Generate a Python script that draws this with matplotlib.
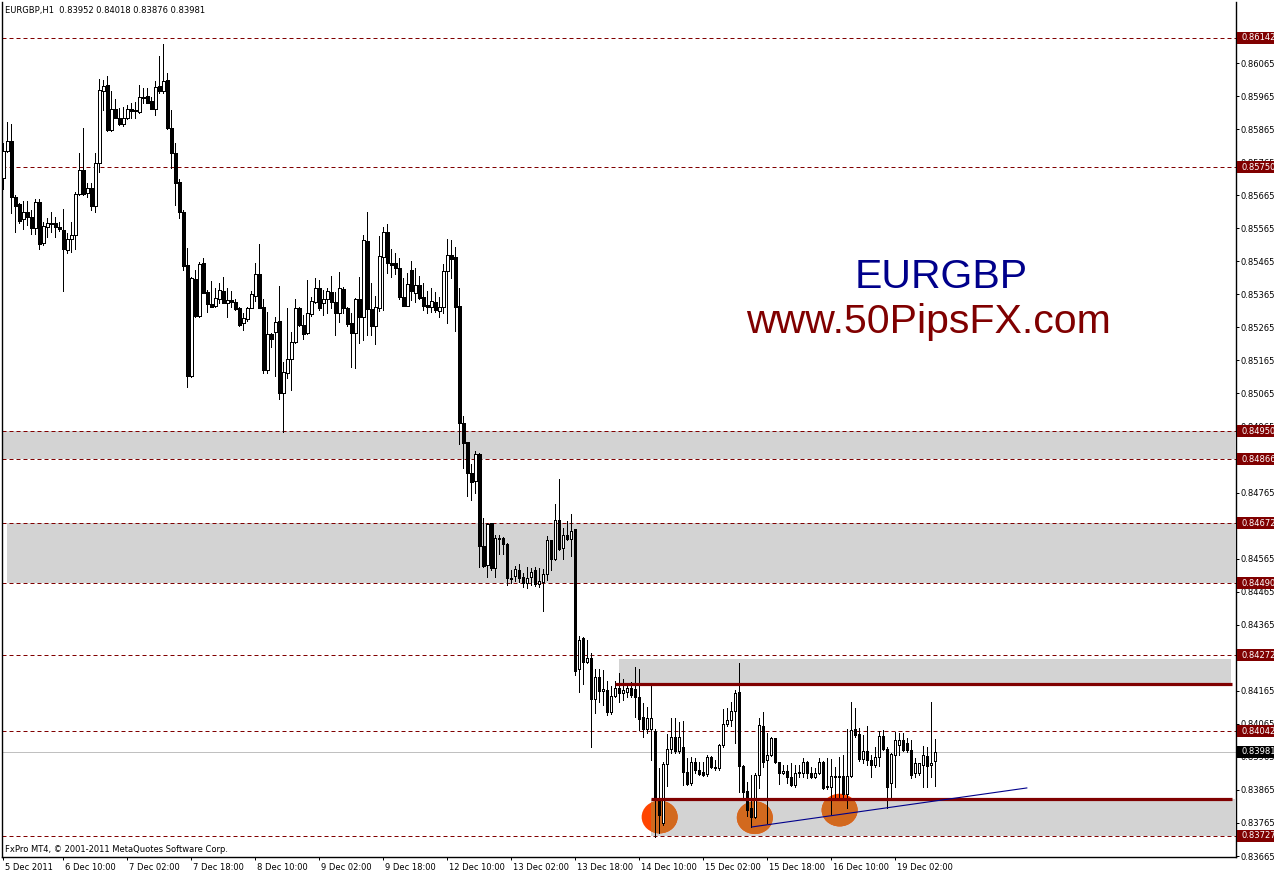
"""EURGBP H1 chart, MT4 style, with support / resistance zones."""
import matplotlib
matplotlib.use("Agg")
import matplotlib.pyplot as plt
import matplotlib.transforms as mtransforms
from matplotlib.patches import Rectangle, Ellipse
import numpy as np

W, H = 1274, 875

# hourly candles, prices in points (1e-5), first bar = 5 Dec 2011 19:00
OPEN = [
    85716, 85799, 85829, 85659, 85638, 85592, 85615, 85598, 85565, 85644,
    85520, 85568, 85580, 85580, 85568, 85560, 85499, 85532, 85544, 85669,
    85740, 85673, 85686, 85633, 85762, 85981, 85999, 85862, 85926, 85900,
    85881, 85898, 85927, 85920, 85918, 85963, 85965, 85950, 85926, 85996,
    85981, 86014, 85868, 85794, 85704, 85615, 85454, 85119, 85412, 85300,
    85459, 85371, 85335, 85330, 85350, 85375, 85340, 85348, 85343, 85323,
    85277, 85290, 85325, 85361, 85427, 85326, 85136, 85244, 85250, 85284,
    85065, 85128, 85168, 85222, 85323, 85272, 85247, 85305, 85343, 85383,
    85340, 85350, 85371, 85341, 85309, 85380, 85323, 85277, 85249, 85350,
    85297, 85527, 85320, 85269, 85325, 85479, 85553, 85461, 85459, 85444,
    85358, 85331, 85440, 85368, 85393, 85358, 85333, 85326, 85342, 85315,
    85328, 85436, 85484, 85479, 85330, 84975, 84918, 84824, 84800, 84882,
    84603, 84546, 84673, 84537, 84628, 84628, 84609, 84506, 84512, 84531,
    84509, 84491, 84509, 84531, 84488, 84494, 84518, 84621, 84564, 84682,
    84597, 84637, 84625, 84655, 84231, 84325, 84252, 84264, 84140, 84207,
    84164, 84167, 84101, 84149, 84173, 84158, 84161, 84173, 84170, 84146,
    84086, 84049, 84049, 84043, 83834, 83765, 83943, 83989, 84025, 83983,
    83995, 83919, 83886, 83949, 83925, 83918, 83913, 83965, 83934, 83931,
    84001, 84064, 84077, 84104, 84161, 83937, 83862, 83810, 83783, 83910,
    84058, 83955, 83971, 84022, 83949, 83916, 83922, 83904, 83880, 83916,
    83916, 83949, 83916, 83904, 83916, 83949, 83877, 83874, 83907, 83907,
    83907, 83853, 83907, 84049, 84034, 83958, 83983, 83955, 83940, 83965,
    84028, 83989, 83886, 83971, 84001, 84016, 84007, 83986, 83916, 83916,
    83940, 83968, 83940, 83952,
]
HIGH = [
    85822, 85887, 85880, 85666, 85641, 85649, 85649, 85620, 85653, 85653,
    85585, 85595, 85615, 85600, 85585, 85622, 85550, 85585, 85676, 85792,
    85868, 85701, 85701, 85794, 86016, 86014, 86026, 85980, 85955, 85928,
    85931, 85938, 85943, 85948, 85999, 85989, 85989, 85963, 86011, 86087,
    86123, 86034, 85922, 85822, 85713, 85620, 85504, 85417, 85439, 85464,
    85474, 85378, 85405, 85385, 85398, 85419, 85383, 85376, 85350, 85326,
    85308, 85328, 85376, 85459, 85517, 85352, 85311, 85249, 85296, 85390,
    85159, 85323, 85252, 85350, 85328, 85302, 85410, 85358, 85414, 85408,
    85378, 85383, 85420, 85373, 85434, 85386, 85328, 85308, 85353, 85417,
    85545, 85613, 85398, 85360, 85542, 85568, 85578, 85501, 85489, 85474,
    85414, 85429, 85467, 85444, 85420, 85398, 85376, 85383, 85371, 85358,
    85457, 85533, 85530, 85509, 85383, 84997, 84918, 84852, 84891, 84884,
    84688, 84673, 84673, 84637, 84637, 84631, 84612, 84531, 84543, 84549,
    84522, 84540, 84537, 84540, 84537, 84534, 84634, 84621, 84730, 84806,
    84658, 84679, 84700, 84655, 84331, 84328, 84319, 84279, 84231, 84231,
    84228, 84195, 84180, 84195, 84219, 84201, 84183, 84192, 84237, 84231,
    84128, 84116, 84186, 84049, 83931, 83949, 84034, 84083, 84083, 84070,
    84074, 83962, 83965, 83962, 83949, 83949, 83971, 83968, 83956, 84004,
    84110, 84113, 84131, 84167, 84249, 83940, 83889, 83910, 83916, 84083,
    84101, 84037, 84025, 84022, 83949, 83940, 83940, 83946, 83940, 83940,
    83962, 83953, 83934, 83931, 83962, 83952, 83962, 83959, 83934, 83965,
    83971, 84049, 84131, 84113, 84052, 84031, 84058, 83971, 83995, 84043,
    84046, 83995, 83977, 84040, 84037, 84037, 84022, 84016, 83962, 83946,
    83998, 83995, 84131, 84018,
]
LOW = [
    85683, 85797, 85612, 85555, 85582, 85562, 85575, 85548, 85548, 85502,
    85514, 85540, 85555, 85540, 85558, 85376, 85491, 85494, 85502, 85666,
    85666, 85661, 85620, 85615, 85736, 85923, 85860, 85859, 85898, 85878,
    85875, 85895, 85898, 85898, 85915, 85945, 85943, 85925, 85908, 85974,
    85974, 85866, 85747, 85636, 85595, 85439, 85084, 85116, 85296, 85296,
    85368, 85313, 85326, 85326, 85338, 85338, 85297, 85328, 85318, 85269,
    85257, 85285, 85323, 85346, 85323, 85128, 85126, 85207, 85119, 85048,
    84947, 85113, 85075, 85217, 85269, 85230, 85245, 85300, 85340, 85318,
    85302, 85308, 85323, 85242, 85282, 85308, 85269, 85146, 85143, 85217,
    85227, 85242, 85242, 85215, 85315, 85318, 85430, 85419, 85427, 85350,
    85330, 85330, 85348, 85343, 85350, 85318, 85309, 85313, 85313, 85297,
    85308, 85277, 85414, 85255, 84912, 84839, 84755, 84742, 84764, 84540,
    84540, 84509, 84530, 84509, 84579, 84579, 84485, 84491, 84497, 84494,
    84479, 84476, 84485, 84482, 84479, 84406, 84500, 84531, 84561, 84591,
    84564, 84621, 84573, 84213, 84161, 84186, 84249, 83995, 84098, 84131,
    84122, 84092, 84095, 84146, 84131, 84137, 84146, 84146, 84086, 84046,
    84025, 84037, 83956, 83722, 83734, 83758, 83877, 83977, 83977, 83977,
    83880, 83880, 83880, 83916, 83910, 83907, 83907, 83931, 83925, 83925,
    83995, 84058, 84058, 84007, 83859, 83834, 83786, 83753, 83780, 83871,
    83934, 83765, 83968, 83946, 83883, 83913, 83886, 83877, 83874, 83904,
    83904, 83901, 83901, 83902, 83913, 83868, 83868, 83792, 83843, 83837,
    83840, 83810, 83904, 84025, 83952, 83946, 83940, 83904, 83934, 83937,
    83986, 83810, 83843, 83874, 83971, 83983, 83980, 83901, 83904, 83910,
    83874, 83874, 83904, 83876,
]
CLOSE = [
    85800, 85829, 85659, 85633, 85588, 85615, 85598, 85565, 85644, 85517,
    85572, 85580, 85577, 85568, 85562, 85502, 85532, 85544, 85669, 85740,
    85669, 85686, 85633, 85762, 85984, 85996, 85862, 85926, 85900, 85881,
    85898, 85927, 85920, 85923, 85962, 85959, 85945, 85926, 85992, 85981,
    86011, 85868, 85794, 85703, 85615, 85452, 85119, 85414, 85300, 85456,
    85370, 85337, 85328, 85353, 85378, 85340, 85348, 85343, 85320, 85272,
    85292, 85323, 85365, 85427, 85325, 85136, 85244, 85230, 85280, 85067,
    85129, 85168, 85222, 85323, 85272, 85244, 85308, 85345, 85383, 85323,
    85350, 85375, 85343, 85309, 85383, 85323, 85275, 85249, 85351, 85297,
    85530, 85320, 85269, 85326, 85481, 85553, 85459, 85454, 85444, 85358,
    85331, 85395, 85376, 85393, 85355, 85330, 85326, 85345, 85318, 85328,
    85436, 85484, 85472, 85328, 84975, 84916, 84824, 84797, 84882, 84603,
    84543, 84670, 84537, 84628, 84625, 84609, 84506, 84503, 84534, 84506,
    84491, 84506, 84525, 84488, 84497, 84518, 84621, 84564, 84682, 84594,
    84637, 84625, 84649, 84225, 84319, 84252, 84264, 84140, 84207, 84164,
    84170, 84101, 84149, 84173, 84158, 84167, 84173, 84152, 84146, 84080,
    84049, 84083, 84083, 83834, 83789, 83943, 83989, 84025, 83983, 84025,
    83919, 83883, 83949, 83925, 83913, 83910, 83965, 83934, 83931, 84001,
    84064, 84077, 84104, 84158, 83937, 83859, 83804, 83783, 83910, 84061,
    83949, 83971, 84022, 83949, 83916, 83922, 83904, 83880, 83916, 83919,
    83949, 83916, 83904, 83916, 83949, 83871, 83874, 83907, 83904, 83904,
    83853, 83907, 84046, 84031, 83958, 83983, 83955, 83940, 83965, 84028,
    83989, 83874, 83974, 84016, 84016, 83986, 83986, 83910, 83946, 83946,
    83971, 83937, 83946, 83981,
]

TICK_BARS = [0, 15, 31, 47, 63, 79, 95, 111, 127, 143, 159, 175, 191, 207, 223]
TICK_LABELS = [
    "5 Dec 2011", "6 Dec 10:00", "7 Dec 02:00", "7 Dec 18:00", "8 Dec 10:00",
    "9 Dec 02:00", "9 Dec 18:00", "12 Dec 10:00", "13 Dec 02:00", "13 Dec 18:00",
    "14 Dec 10:00", "15 Dec 02:00", "15 Dec 18:00", "16 Dec 10:00", "19 Dec 02:00",
]
PRICE_TICKS = [0.83665 + 0.001 * k for k in range(25)]

LEVELS = [0.86142, 0.85750, 0.84950, 0.84866, 0.84672, 0.84490, 0.84272, 0.84042, 0.83727]
BID = 0.83981

# grey zones: (first bar, last bar, low, high)
ZONES = [
    (-0.3, 307.9, 0.84866, 0.84950),
    (0.9, 307.9, 0.84490, 0.84672),
    (153.9, 306.9, 0.84186, 0.84261),
    (161.9, 307.9, 0.83725, 0.83837),
]
# thick support / resistance lines: (from bar, to bar, price)
SR_LINES = [(152.9, 307.2, 0.84186), (161.9, 307.2, 0.83837)]
TREND = ([187.2, 255.9], [0.83753, 0.83871])
# touches of support: (bar, price)
TOUCHES = [(164.1, 0.83783), (187.9, 0.83781), (209.1, 0.83804)]

MAROON = "#800000"

o = np.array(OPEN) / 1e5
h = np.array(HIGH) / 1e5
lo = np.array(LOW) / 1e5
c = np.array(CLOSE) / 1e5
idx = np.arange(len(o))

fig = plt.figure(figsize=(W / 100, H / 100), dpi=100)
ax = fig.add_axes([2 / W, 18 / H, 1234 / W, 855 / H])
ax.set_xlim(-0.325, 308.2)
ax.set_ylim(0.83662, 0.86250)

for x0, x1, y0, y1 in ZONES:
    ax.add_patch(Rectangle((x0, y0), x1 - x0, y1 - y0, facecolor="#D3D3D3",
                           edgecolor="none", zorder=1))
support_zone = ax.patches[-1]

for bx, py in TOUCHES:
    ax.add_patch(Ellipse((bx, py), 9, 0.00099, facecolor="#FF4500",
                         edgecolor="none", zorder=1.5))
    inner = Ellipse((bx, py), 9, 0.00099, facecolor="#D2691E",
                    edgecolor="none", zorder=1.6)
    ax.add_patch(inner)
    inner.set_clip_path(support_zone)

for lv in LEVELS:
    ax.axhline(lv, color=MAROON, lw=0.72, ls=(0, (4, 3)), zorder=1.8)
ax.axhline(BID, color="#C0C0C0", lw=0.72, zorder=1.8)

# candles
ax.vlines(idx, lo, h, color="black", lw=0.72, zorder=3, antialiased=False)
bull = c >= o
ax.bar(idx, np.abs(c - o), bottom=np.minimum(o, c), width=0.62,
       color=np.where(bull, "white", "black"), edgecolor="black",
       linewidth=0.72, zorder=3.2, antialiased=False)

for x0, x1, py in SR_LINES:
    ax.plot([x0, x1], [py, py], color=MAROON, lw=2.3, zorder=4,
            solid_capstyle="butt")
ax.plot(TREND[0], TREND[1], color="#00008B", lw=0.8, zorder=4)

# axes look
for side in ("left", "bottom", "right"):
    ax.spines[side].set_linewidth(1.0)
ax.spines["top"].set_visible(False)
ax.yaxis.tick_right()
ax.set_yticks(PRICE_TICKS)
ax.set_yticklabels([f"{v:.5f}" for v in PRICE_TICKS])
ax.tick_params(axis="y", direction="out", length=2.2, width=0.72, pad=1.2,
               labelsize=6, left=False, right=True)
ax.set_xticks(TICK_BARS)
ax.set_xticklabels(TICK_LABELS)
ax.tick_params(axis="x", direction="out", length=2.5, width=0.72, pad=2.0,
               labelsize=6)
shift = mtransforms.ScaledTranslation(1.5 / 100, 0, fig.dpi_scale_trans)
for lab in ax.get_xticklabels():
    lab.set_horizontalalignment("left")
    lab.set_transform(lab.get_transform() + shift)

# price boxes on the scale
tr = mtransforms.blended_transform_factory(fig.transFigure, ax.transData)
box_h = 12 * (0.86250 - 0.83662) / 855
for lv, col in [(v, MAROON) for v in LEVELS] + [(BID, "black")]:
    fig.add_artist(Rectangle((1237 / W, lv - box_h / 2), 37 / W, box_h,
                             transform=tr, facecolor=col, edgecolor="none",
                             zorder=5))
    fig.text(1241 / W, lv, f"{lv:.5f}", transform=tr, color="white",
             fontsize=6, va="center", ha="left", zorder=6)

fig.text(5 / W, 1 - 11 / H, "EURGBP,H1  0.83952 0.84018 0.83876 0.83981",
         fontsize=6, va="center", ha="left")
fig.text(5 / W, 1 - 849 / H, "FxPro MT4, \u00a9 2001-2011 MetaQuotes Software Corp.",
         fontsize=6, va="center", ha="left")

fig.text(941.5 / W, 1 - 288 / H, "EURGBP", fontsize=29.5, color="#00008B",
         family="Liberation Sans", ha="center", va="baseline")
fig.text(929 / W, 1 - 333 / H, "www.50PipsFX.com", fontsize=29.5, color=MAROON,
         family="Liberation Sans", ha="center", va="baseline")

fig.savefig("out.png", dpi=100)
plt.close(fig)
